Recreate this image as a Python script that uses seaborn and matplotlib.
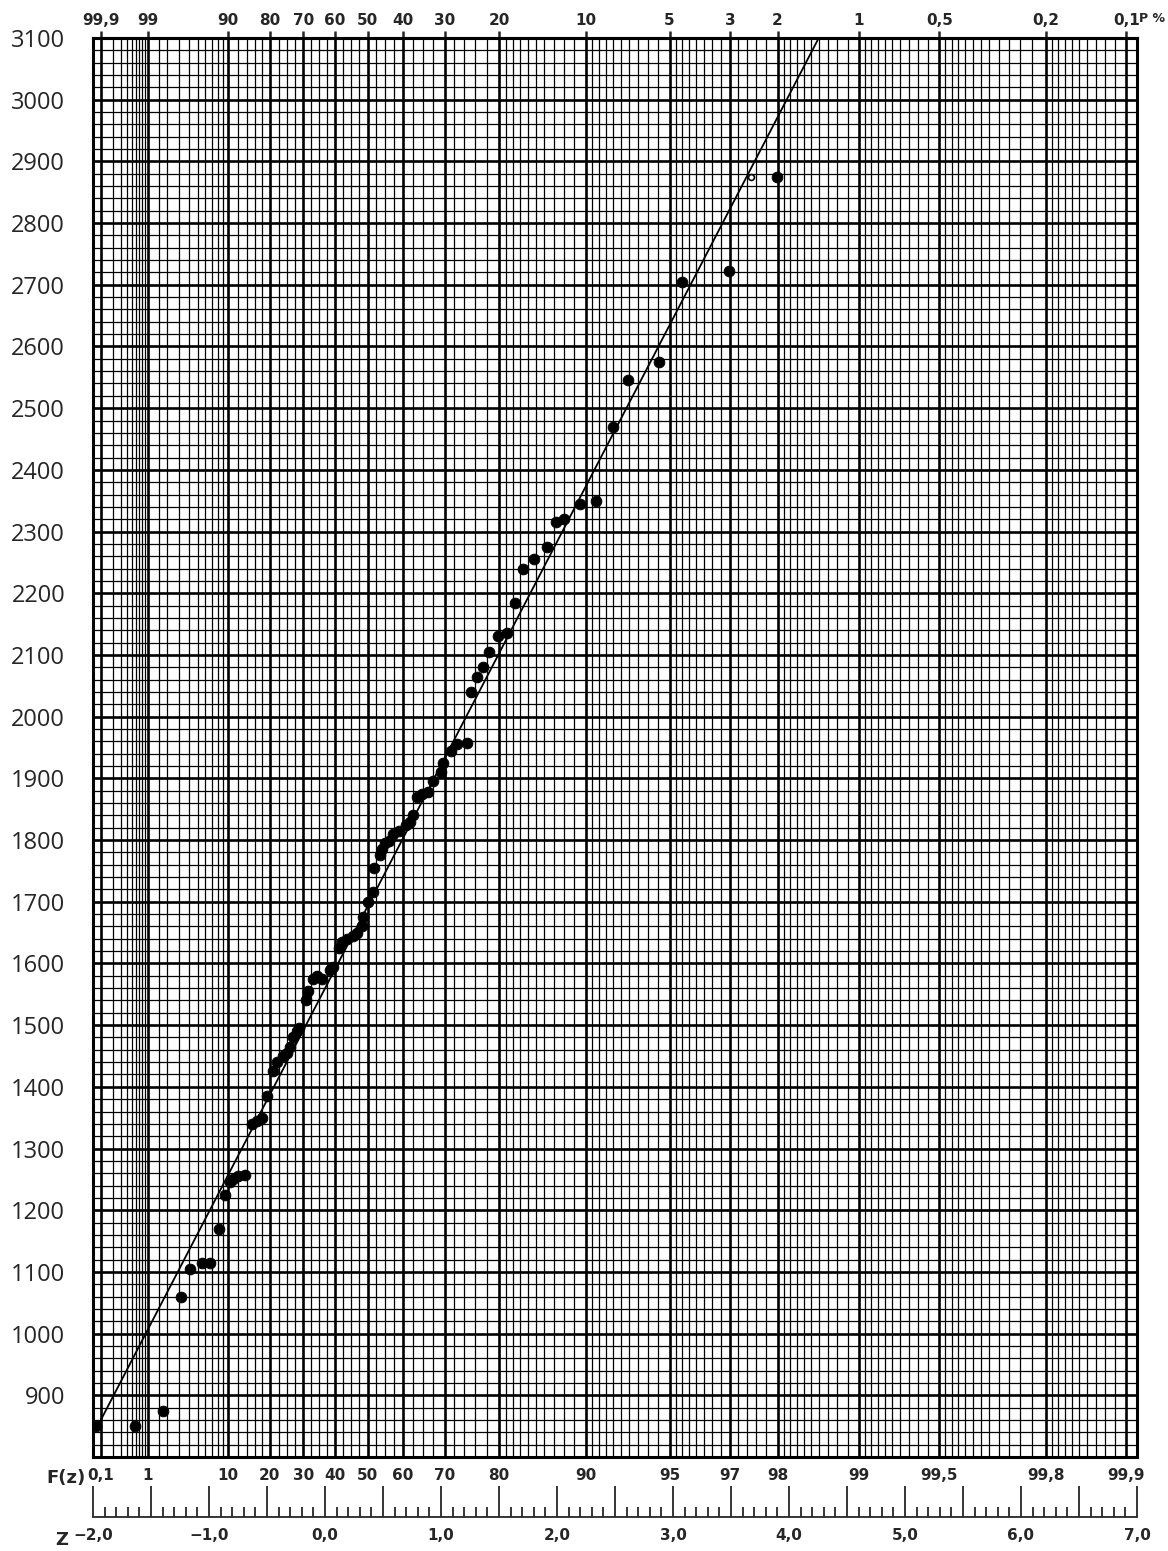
import numpy as np
import matplotlib
matplotlib.use("Agg")
import matplotlib.pyplot as plt
import seaborn as sns

# values: reduced variate z and plotted value
z_obs = [-1.97, -1.64, -1.40, -1.24, -1.16, -1.06, -0.99, -0.91, -0.86, -0.82, -0.79, -0.75, -0.69,
         -0.63, -0.59, -0.54, -0.50, -0.45, -0.41, -0.36, -0.33, -0.30, -0.28, -0.24, -0.22,
         -0.16, -0.15, -0.10, -0.07, -0.03, 0.04, 0.07, 0.12, 0.15, 0.19, 0.24, 0.28, 0.32, 0.33,
         0.37, 0.41, 0.42, 0.47, 0.49, 0.52, 0.55, 0.59, 0.64, 0.70, 0.73, 0.76, 0.79, 0.84, 0.89,
         0.93, 1.00, 1.02, 1.09, 1.14, 1.22, 1.26, 1.31, 1.36, 1.41, 1.49, 1.57, 1.64, 1.71, 1.80,
         1.91, 1.99, 2.06, 2.20, 2.34, 2.48, 2.61, 2.88, 3.08, 3.48, 3.90]
v_obs = [850, 850, 875, 1060, 1105, 1115, 1115, 1170, 1225, 1245, 1250, 1255, 1257,
         1340, 1345, 1350, 1385, 1425, 1440, 1450, 1455, 1465, 1480, 1490, 1495,
         1540, 1555, 1575, 1580, 1575, 1590, 1595, 1625, 1635, 1640, 1645, 1650, 1660, 1675,
         1700, 1715, 1755, 1775, 1785, 1795, 1798, 1810, 1815, 1825, 1830, 1840, 1870, 1875, 1878,
         1895, 1910, 1925, 1945, 1955, 1958, 2040, 2065, 2080, 2105, 2130, 2135, 2185, 2240, 2255,
         2275, 2315, 2320, 2345, 2350, 2470, 2545, 2575, 2705, 2722, 2875]

# the small open point near the top
z_open = [3.67]
v_open = [2875]

# hand drawn fitted line
fit_z = [-1.96, 4.27]
fit_v = [850, 3105]

# labelled probability lines (F in %)
f_labels = [0.1, 1, 10, 20, 30, 40, 50, 60, 70, 80, 90, 95, 97, 98, 99, 99.5, 99.8, 99.9]
y_ticks = list(range(800, 3101, 100))

# fine grid of the printed paper: (start, stop, step) in F %
grid_steps = [(0.1, 1, 0.1), (1, 2, 0.5), (2, 10, 1), (10, 20, 2), (20, 70, 2.5),
              (70, 80, 2), (80, 90, 1), (90, 95, 0.5), (95, 97, 0.25), (97, 98, 0.2),
              (98, 99, 0.1), (99, 99.5, 0.05), (99.5, 99.8, 0.025), (99.8, 99.9, 0.01)]


def gumbel(F):
    return -np.log(-np.log(np.asarray(F, dtype=float) / 100.0))


def fmt(v):
    return f"{v:g}".replace(".", ",")


f_minor = []
for a, b, s in grid_steps:
    f_minor.extend(np.round(np.arange(a, b + s / 2, s), 4))
f_minor = sorted(set(f_minor))

sns.set_style("white")
plt.rcParams["font.family"] = ["DejaVu Sans"]
label_font = ["Liberation Sans Narrow", "DejaVu Sans"]

fig = plt.figure(figsize=(11.68, 15.51), dpi=100, facecolor="white")
ax = fig.add_axes([93 / 1168, 1 - 1457 / 1551, (1137 - 93) / 1168, (1457 - 38) / 1551])

sns.scatterplot(x=z_obs, y=v_obs, color="black", s=60, edgecolor="black", ax=ax, zorder=5)
sns.scatterplot(x=z_open, y=v_open, color="white", s=18, edgecolor="black", linewidth=1.2,
                ax=ax, zorder=5)
sns.lineplot(x=fit_z, y=fit_v, color="black", lw=1.3, ax=ax, zorder=4)

ax.set_xlim(-2.0, 7.0)
ax.set_ylim(800, 3100)

z_major = gumbel(f_labels)
ax.set_xticks(z_major)
ax.set_xticklabels([fmt(f) for f in f_labels], fontsize=11, fontweight="bold", family=label_font)
ax.set_xticks(gumbel(f_minor), minor=True)
ax.set_yticks(y_ticks)
ax.set_yticklabels(["" if v == 800 else str(v) for v in y_ticks], fontsize=17,
                   family=["Open Sans", "DejaVu Sans"])
ax.set_yticks([v for v in range(800, 3101, 20) if v % 100], minor=True)

ax.tick_params(axis="x", which="major", direction="out", length=5, width=1.8, pad=3)
ax.tick_params(axis="y", which="major", length=0, pad=20)
ax.tick_params(which="minor", length=0)

ax.grid(which="major", color="black", lw=1.9)
ax.grid(which="minor", color="black", lw=0.9)
for sp in ax.spines.values():
    sp.set_visible(True)
    sp.set_color("black")
    sp.set_linewidth(2.2)

# top scale: exceedance P %
top = ax.secondary_xaxis("top")
top.set_xticks(z_major)
top.set_xticklabels([fmt(round(100 - f, 1)) for f in f_labels], fontsize=11,
                    fontweight="bold", family=label_font)
top.tick_params(direction="out", length=5, width=1.8, pad=2)
top.spines["top"].set_linewidth(2.2)

# reduced variate scale under the sheet
zax = ax.secondary_xaxis(-60 / 1419)
z_ticks = np.round(np.arange(-2.0, 7.01, 0.5), 1)
zax.set_xticks(z_ticks)
zax.set_xticklabels([(f"{t:.1f}".replace(".", ",").replace("-", "\u2212") if t % 1 == 0 else "")
                     for t in z_ticks], fontsize=11, fontweight="bold", family=label_font)
zax.set_xticks(np.round(np.arange(-2.0, 7.01, 0.1), 1), minor=True)
zax.tick_params(which="major", direction="in", length=22, width=1.3, pad=8)
zax.tick_params(which="minor", direction="in", length=7, width=1.3)
zax.spines["bottom"].set_linewidth(1.3)

fig.text(86 / 1168, 1 - 1478 / 1551, "F(z)", ha="right", va="center", fontsize=13,
         fontweight="bold", family=label_font)
fig.text(68 / 1168, 1 - 1540 / 1551, "Z", ha="right", va="center", fontsize=13,
         fontweight="bold", family=label_font)
fig.text(1165 / 1168, 1 - 18 / 1551, "P %", ha="right", va="center", fontsize=9,
         fontweight="bold", family=label_font)

fig.savefig("out.png", dpi=100, facecolor="white")
